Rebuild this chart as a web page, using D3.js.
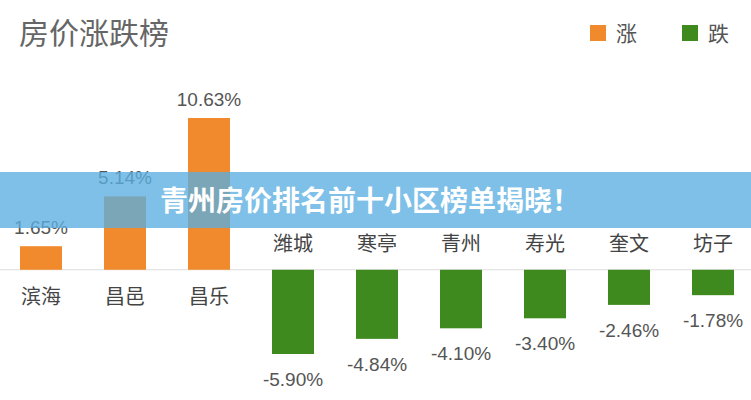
<!DOCTYPE html>
<html><head><meta charset="utf-8">
<script src="https://cdn.jsdelivr.net/npm/d3@7"></script>
<style>body{margin:0;background:#fff}svg{display:block;font-family:"Noto Sans CJK SC","Noto Sans",sans-serif}</style>
</head><body><div id="chart"></div>
<script>
const categories = ["滨海", "昌邑", "昌乐", "潍城", "寒亭", "青州", "寿光", "奎文", "坊子"];
const values = [1.65, 5.14, 10.63, -5.90, -4.84, -4.10, -3.40, -2.46, -1.78];
const legendLabels = ["涨", "跌"];

const width = 751, height = 400;
const svg = d3.select("#chart").append("svg").attr("width", width).attr("height", height);

const x = d3.scaleBand().domain(categories).range([-1, 755]).paddingInner(0.5).paddingOuter(0.25);
const y = d3.scaleLinear().domain([-5.9, 10.63]).range([354, 118]);
const up = "#f08a2c", down = "#3f8a1f";

svg.append("text").attr("x", 19).attr("y", 44).attr("font-size", 30).attr("fill", "#666").text("房价涨跌榜");

const legend = svg.append("g");
legendLabels.forEach((t, i) => {
  const lx = 590 + i * 92;
  legend.append("rect").attr("x", lx).attr("y", 25).attr("width", 16).attr("height", 16).attr("fill", i ? down : up);
  legend.append("text").attr("x", lx + 26).attr("y", 41).attr("font-size", 21).attr("fill", "#555").text(t);
});

svg.append("line").attr("x1", 0).attr("x2", width).attr("y1", y(0)).attr("y2", y(0)).attr("stroke", "#ddd");

const g = svg.selectAll(".bar").data(categories).join("g");
g.append("rect")
  .attr("x", d => x(d))
  .attr("width", x.bandwidth())
  .attr("y", (d, i) => y(Math.max(0, values[i])))
  .attr("height", (d, i) => Math.abs(y(values[i]) - y(0)))
  .attr("fill", (d, i) => values[i] >= 0 ? up : down);
g.append("text")
  .attr("x", d => x(d) + x.bandwidth() / 2)
  .attr("y", (d, i) => values[i] >= 0 ? y(values[i]) - 12 : y(values[i]) + 32)
  .attr("text-anchor", "middle").attr("font-size", 19).attr("fill", "#555")
  .attr("font-family", "Liberation Sans, Arial, sans-serif")
  .text((d, i) => values[i].toFixed(2) + "%");
g.append("text")
  .attr("x", d => x(d) + x.bandwidth() / 2)
  .attr("y", (d, i) => values[i] >= 0 ? y(0) + 34 : y(0) - 19)
  .attr("text-anchor", "middle").attr("font-size", 20).attr("fill", "#444")
  .text(d => d);

svg.append("rect").attr("x", 0).attr("y", 172).attr("width", width).attr("height", 56)
  .attr("fill", "#5aaee0").attr("opacity", 0.78);
svg.append("text").attr("x", 160).attr("y", 211)
  .attr("font-size", 28).attr("font-weight", "bold").attr("fill", "#fff")
  .text("青州房价排名前十小区榜单揭晓！");
</script></body></html>
